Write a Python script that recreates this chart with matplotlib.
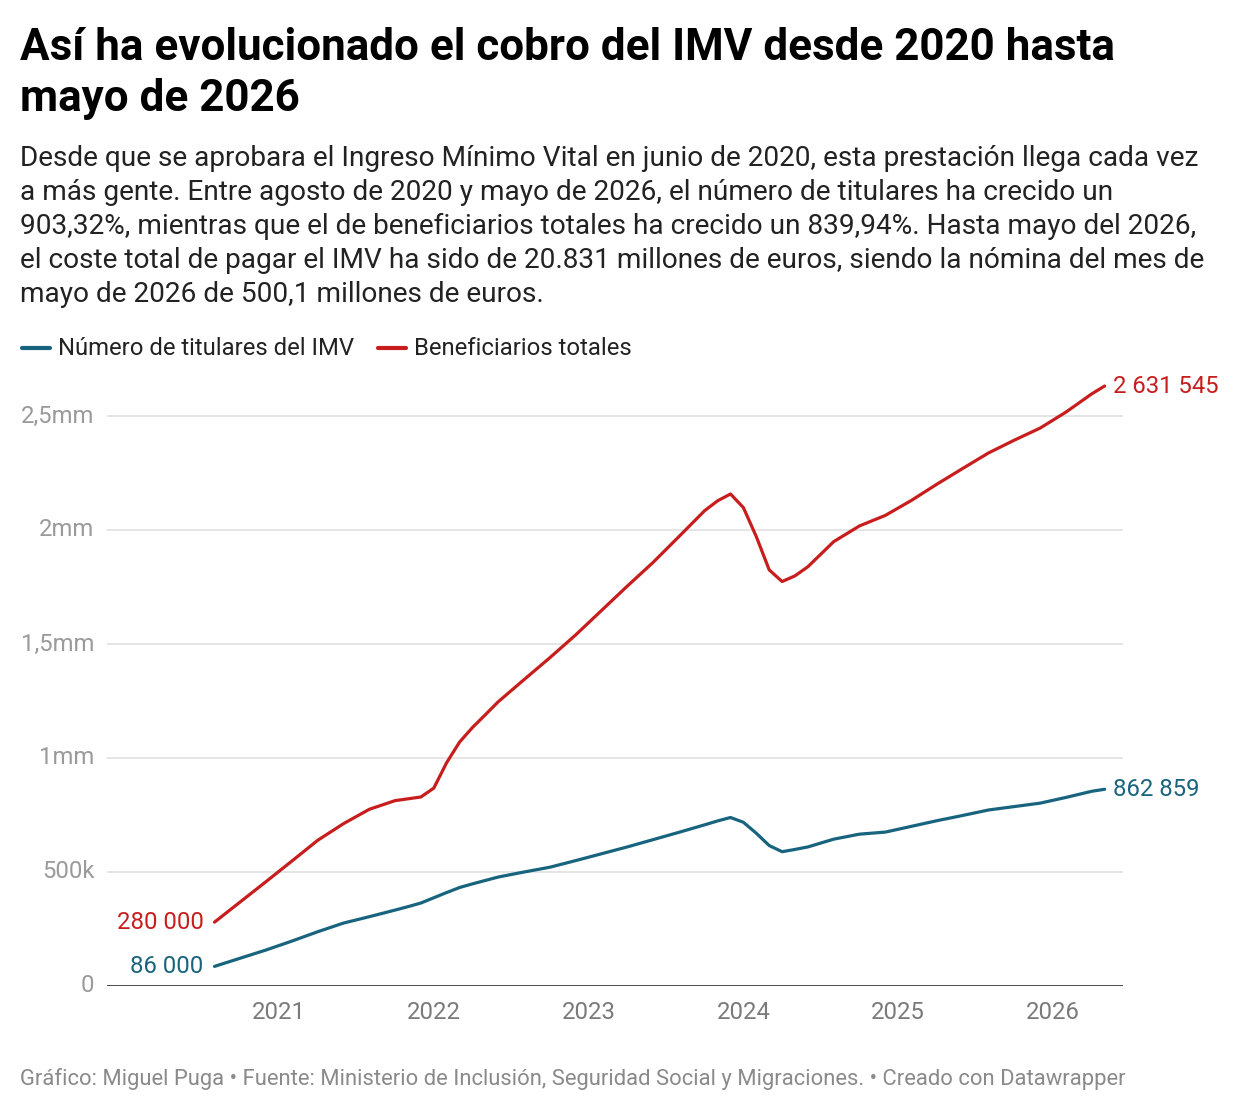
import matplotlib
matplotlib.use("Agg")
import matplotlib.pyplot as plt
from matplotlib.lines import Line2D

plt.rcParams["font.family"] = ["Roboto", "DejaVu Sans"]

# data
dates = [
    "2020-08", "2020-10", "2020-12", "2021-02", "2021-04", "2021-06",
    "2021-08", "2021-10", "2021-11", "2021-12", "2022-01", "2022-02",
    "2022-03", "2022-04", "2022-05", "2022-06", "2022-08", "2022-10",
    "2022-12", "2023-02", "2023-04", "2023-06", "2023-08", "2023-10",
    "2023-11", "2023-12", "2024-01", "2024-02", "2024-03", "2024-04",
    "2024-05", "2024-06", "2024-08", "2024-10", "2024-12", "2025-02",
    "2025-04", "2025-06", "2025-08", "2025-10", "2025-12", "2026-02",
    "2026-04", "2026-05",
]
titulares = [
    86000, 122000, 158000, 197000, 238000, 276000,
    304000, 333000, 348000, 364000, 387000, 410000,
    432000, 448000, 463000, 478000, 500000, 521000,
    550000, 580000, 610000, 642000, 674000, 707000,
    724000, 739000, 718000, 670000, 616000, 589000,
    599000, 610000, 644000, 666000, 675000, 700000,
    725000, 748000, 772000, 787000, 802000, 827000,
    854000, 862859,
]
beneficiarios = [
    280000, 369000, 458000, 548000, 639000, 712000,
    775000, 813000, 821000, 829000, 868000, 980000,
    1070000, 1134000, 1190000, 1247000, 1344000, 1440000,
    1540000, 1647000, 1754000, 1858000, 1971000, 2085000,
    2128000, 2158000, 2098000, 1971000, 1825000, 1774000,
    1799000, 1839000, 1949000, 2018000, 2064000, 2129000,
    2201000, 2270000, 2338000, 2394000, 2447000, 2517000,
    2597000, 2631545,
]
series_names = ["Número de titulares del IMV", "Beneficiarios totales"]
year_ticks = [2021, 2022, 2023, 2024, 2025, 2026]
y_ticks = [0, 500000, 1000000, 1500000, 2000000, 2500000]
y_tick_labels = ["0", "500k", "1mm", "1,5mm", "2mm", "2,5mm"]

BLUE = "#18647e"
RED = "#c71e1d"
W, H = 1240, 1112


def fx(px):
    return px / W


def fy(py):
    return 1 - py / H


def to_year(d):
    y, m = d.split("-")
    return int(y) + (int(m) - 1) / 12


x = [to_year(d) for d in dates]

fig = plt.figure(figsize=(12.4, 11.12), dpi=100)
ax = fig.add_axes([fx(107), fy(986), fx(1123) - fx(107), (986 - 370.4) / H])

ax.plot(x, titulares, color=BLUE, lw=2.3, solid_capstyle="round",
        solid_joinstyle="round", zorder=3)
ax.plot(x, beneficiarios, color=RED, lw=2.3, solid_capstyle="round",
        solid_joinstyle="round", zorder=3)

ax.set_xlim(2019.889, 2026.452)
ax.set_ylim(0, 2.7e6)

ax.set_yticks(y_ticks)
ax.set_yticklabels(y_tick_labels)
ax.set_xticks(year_ticks)
ax.set_xticklabels([str(y) for y in year_ticks])
ax.tick_params(axis="y", length=0, pad=9, labelsize=17.2, labelcolor="#9a9a9a")
ax.tick_params(axis="x", length=0, pad=11, labelsize=17.2, labelcolor="#7a7a7a")
for lab in ax.get_yticklabels():
    lab.set_verticalalignment("center")

ax.grid(axis="y", color="#e3e3e3", lw=1.3)
ax.set_axisbelow(True)
for s in ax.spines.values():
    s.set_visible(False)
ax.axhline(0, color="#1d1d1d", lw=1.8, zorder=2)

# end labels
lab_kw = dict(fontsize=17.2, va="center")
ax.annotate("280 000", (x[0], beneficiarios[0]), xytext=(-8, 0),
            textcoords="offset points", ha="right", color=RED, **lab_kw)
ax.annotate("86 000", (x[0], titulares[0]), xytext=(-8, 0),
            textcoords="offset points", ha="right", color=BLUE, **lab_kw)
ax.annotate("2 631 545", (x[-1], beneficiarios[-1]), xytext=(6, 0),
            textcoords="offset points", ha="left", color=RED, **lab_kw)
ax.annotate("862 859", (x[-1], titulares[-1]), xytext=(6, 0),
            textcoords="offset points", ha="left", color=BLUE, **lab_kw)

# title and description
fig.text(fx(20), fy(60), "Así ha evolucionado el cobro del IMV desde 2020 hasta",
         fontsize=31.7, fontweight="bold", color="#000000", va="baseline")
fig.text(fx(20), fy(111), "mayo de 2026",
         fontsize=31.7, fontweight="bold", color="#000000", va="baseline")

desc = [
    "Desde que se aprobara el Ingreso Mínimo Vital en junio de 2020, esta prestación llega cada vez",
    "a más gente. Entre agosto de 2020 y mayo de 2026, el número de titulares ha crecido un",
    "903,32%, mientras que el de beneficiarios totales ha crecido un 839,94%. Hasta mayo del 2026,",
    "el coste total de pagar el IMV ha sido de 20.831 millones de euros, siendo la nómina del mes de",
    "mayo de 2026 de 500,1 millones de euros.",
]
for i, line in enumerate(desc):
    fig.text(fx(20), fy(158 + 34 * i), line, fontsize=20.2, color="#222222",
             va="center")

# legend
leg_y = fy(348)
fig.add_artist(Line2D([fx(22), fx(50)], [leg_y, leg_y], color=BLUE, lw=3,
                      solid_capstyle="round"))
fig.text(fx(58), leg_y, series_names[0], fontsize=17.2, color="#222222",
         va="center")
fig.add_artist(Line2D([fx(378), fx(406)], [leg_y, leg_y], color=RED, lw=3,
                      solid_capstyle="round"))
fig.text(fx(414), leg_y, series_names[1], fontsize=17.2, color="#222222",
         va="center")

fig.text(fx(20), fy(1079),
         "Gráfico: Miguel Puga • Fuente: Ministerio de Inclusión, Seguridad Social y Migraciones. • Creado con Datawrapper",
         fontsize=15.85, color="#8a8a8a", va="center")

fig.savefig("out.png", dpi=100, facecolor="white")
